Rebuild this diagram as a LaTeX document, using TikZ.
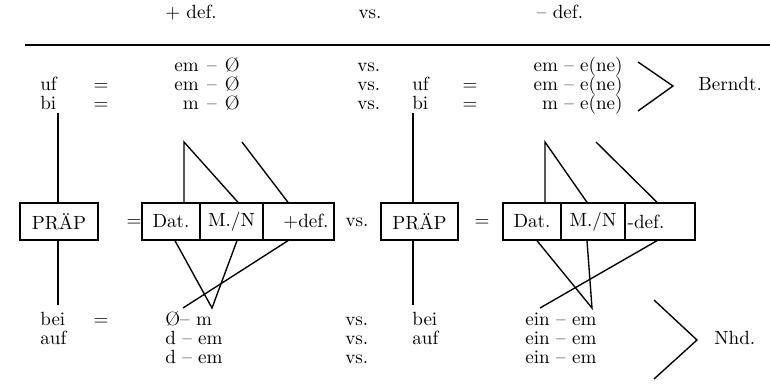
\documentclass[tikz,border=0pt]{standalone}
\usepackage{fontspec}
\begin{document}
\begin{tikzpicture}[x=0.55pt,y=-0.55pt,
  every node/.style={font=\fontsize{10.5}{12.5}\selectfont},
  txt/.style={inner sep=0pt,text height=7pt,text depth=2pt},
  box/.style={draw,line width=0.75pt,minimum height=20.35pt,inner xsep=0pt,inner ysep=0pt},
  ln/.style={line width=0.75pt}]
\useasboundingbox (0,0) rectangle (770,386);
% header
\node[txt] (hplus) at (191,14) {+ def.};
\node[txt] (hvs) at (370,14) {vs.};
\node[txt] (hminus) at (560,14) {– def.};
\coordinate (rl) at (25,45);
\coordinate (rr) at (770,45);
\draw[ln] (rl) -- (rr);
% top rows
\node[txt,anchor=east] (a1) at (240,67) {em\hspace{4.5pt}–\hspace{4.5pt}Ø};
\node[txt,anchor=east] (a2) at (240,86) {em\hspace{4.5pt}–\hspace{4.5pt}Ø};
\node[txt,anchor=east] (a3) at (240,105) {m\hspace{4.5pt}–\hspace{4.5pt}Ø};
\node[txt,anchor=west] (uf1) at (40,86) {uf};
\node[txt,anchor=west] (bi1) at (40,105) {bi};
\node[txt] (eq1) at (101,86) {=};
\node[txt] (eq2) at (101,105) {=};
\node[txt,anchor=west] (v1) at (357,67) {vs.};
\node[txt,anchor=west] (v2) at (357,86) {vs.};
\node[txt,anchor=west] (v3) at (357,105) {vs.};
\node[txt,anchor=west] (uf2) at (412,86) {uf};
\node[txt,anchor=west] (bi2) at (412,105) {bi};
\node[txt] (eq3) at (470,86) {=};
\node[txt] (eq4) at (470,105) {=};
\node[txt,anchor=east] (b1) at (623,67) {em – e(ne)};
\node[txt,anchor=east] (b2) at (623,86) {em – e(ne)};
\node[txt,anchor=east] (b3) at (623,105) {m – e(ne)};
\coordinate (br1) at (638,62);
\coordinate (br2) at (673,86);
\coordinate (br3) at (638,111);
\draw[ln] (br1) -- (br2) -- (br3);
\node[txt,anchor=west] (berndt) at (698,86) {Berndt.};
% middle boxes
\node[box,minimum width=42.9pt] (prap1) at (59,221.5) {PRÄP};
\node[txt] (eqm1) at (134,221.5) {=};
\node[box,minimum width=31.9pt] (dat1) at (171,221.5) {Dat.};
\node[box,minimum width=34.65pt] (mn1) at (231.5,221.5) {M./N};
\node[box,inner xsep=3pt,text width=33pt,align=right] (pd1) at (298.5,221.5) {+def.};
\node[txt] (vsm) at (357,222) {vs.};
\node[box,minimum width=42.35pt] (prap2) at (419.5,221.5) {PRÄP};
\node[txt] (eqm2) at (482,221.5) {=};
\node[box,minimum width=31.9pt] (dat2) at (532,221.5) {Dat.};
\node[box,minimum width=35.2pt] (mn2) at (593,221.5) {M./N};
\node[box,inner xsep=1.5pt,text width=35.5pt,align=left] (md2) at (660,221.5) {-def.};
% verticals
\coordinate (p1t) at (58,113);
\coordinate (p1b) at (58,305);
\coordinate (p2t) at (413,113);
\coordinate (p2b) at (413,305);
\draw[ln] (p1t) -- (p1t |- prap1.north);
\draw[ln] (p1b |- prap1.south) -- (p1b);
\draw[ln] (p2t) -- (p2t |- prap2.north);
\draw[ln] (p2b |- prap2.south) -- (p2b);
% upper connectors left
\coordinate (ua) at (184,142);
\coordinate (ub) at (242,142);
\draw[ln] (ua |- dat1.north) -- (ua) -- (238,0 |- mn1.north);
\draw[ln] (ub) -- (288,0 |- pd1.north);
% lower connectors left
\coordinate (la) at (212,308);
\coordinate (lc) at (183,308);
\draw[ln] (175,0 |- dat1.south) -- (la) -- (237,0 |- mn1.south);
\draw[ln] (288,0 |- pd1.south) -- (lc);
% upper connectors right
\coordinate (ra) at (545,142);
\coordinate (rb) at (596,142);
\draw[ln] (ra |- dat2.north) -- (ra) -- (587,0 |- mn2.north);
\draw[ln] (rb) -- (657,0 |- md2.north);
% lower connectors right
\coordinate (rla) at (592,308);
\coordinate (rlc) at (540,308);
\draw[ln] (537,0 |- dat2.south) -- (rla) -- (587,0 |- mn2.south);
\draw[ln] (657,0 |- md2.south) -- (rlc);
% bottom rows
\node[txt,anchor=west] (bei1) at (40,321) {bei};
\node[txt,anchor=west] (auf1) at (40,340) {auf};
\node[txt] (eq5) at (101,321) {=};
\node[txt,anchor=west] (c1) at (165,321) {Ø– m};
\node[txt,anchor=west] (c2) at (165,340) {d – em};
\node[txt,anchor=west] (c3) at (165,359) {d – em};
\node[txt,anchor=west] (w1) at (345,321) {vs.};
\node[txt,anchor=west] (w2) at (345,340) {vs.};
\node[txt,anchor=west] (w3) at (345,359) {vs.};
\node[txt,anchor=west] (bei2) at (412,321) {bei};
\node[txt,anchor=west] (auf2) at (412,340) {auf};
\node[txt,anchor=west] (d1) at (525,321) {ein – em};
\node[txt,anchor=west] (d2) at (525,340) {ein – em};
\node[txt,anchor=west] (d3) at (525,359) {ein – em};
\coordinate (bb1) at (654,300);
\coordinate (bb2) at (697,340);
\coordinate (bb3) at (654,379);
\draw[ln] (bb1) -- (bb2) -- (bb3);
\node[txt,anchor=west] (nhd) at (714,340) {Nhd.};
\end{tikzpicture}
\end{document}
